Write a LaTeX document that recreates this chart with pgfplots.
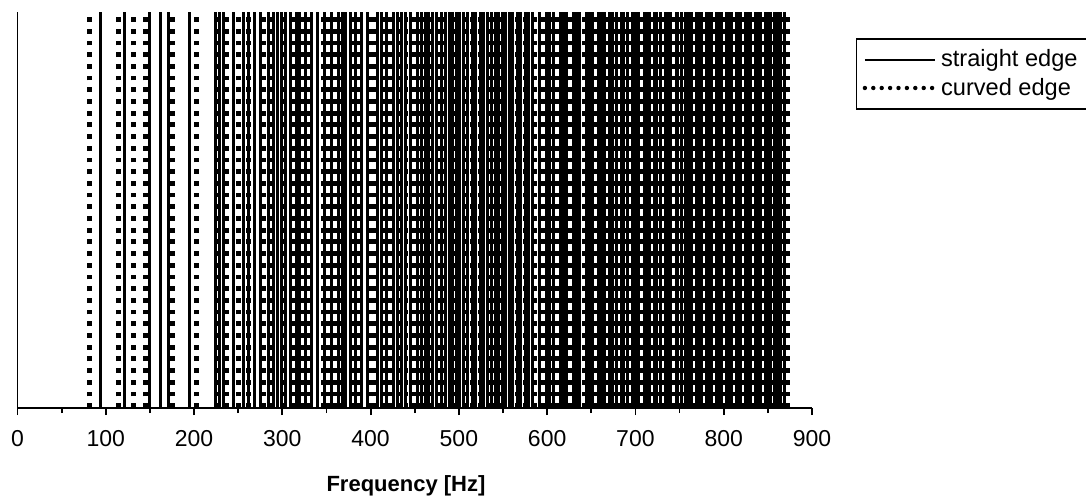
\documentclass[border=0pt]{standalone}
\usepackage{fontspec}
\setmainfont{Liberation Sans}
\usepackage{pgfplots}
\pgfplotsset{compat=1.18}
\begin{document}
\begin{tikzpicture}
\useasboundingbox (-8.75pt,-45.5pt) rectangle (534.25pt,204pt);
\begin{axis}[
  at={(0,0)}, anchor=south west,
  scale only axis, width=397.25pt, height=198pt,
  xmin=0, xmax=900, ymin=0, ymax=1,
  axis x line=bottom, axis y line=left,
  axis line style={-, line width=0.9pt, black},
  xtick={0,100,...,900},
  minor xtick={50,150,...,850},
  ytick=\empty,
  tick align=outside,
  major tick length=3.5pt, minor tick length=2.5pt,
  every tick/.style={black, line width=0.9pt},
  tick label style={font=\fontsize{11.5}{13}\selectfont},
  /pgf/number format/assume math mode=true,
  xticklabel style={yshift=-4pt},
  xlabel={\textbf{Frequency [Hz]}},
  xlabel style={font=\fontsize{11}{13}\selectfont, at={(axis description cs:0.489,0)}, anchor=center, yshift=-39pt},
  legend style={at={(rel axis cs:1.0554,0.934)}, anchor=north west, draw=black, line width=0.7pt,
    font=\fontsize{11.8}{13}\selectfont, inner xsep=3pt, inner ysep=3.5pt},
  legend cell align=left,
  legend image code/.code={\draw[#1] (0pt,0pt) -- (35pt,0pt);},
  clip=true,
]
\addlegendimage{black, line width=1.2pt}
\addlegendimage{black, line width=2.2pt, dash pattern=on 0pt off 4.2pt, line cap=round}
% straight edge
\addplot[forget plot, ycomb, black, line width=1.5pt, no marks] coordinates {
(93.5,1) (121,1) (149,1) (161.5,1) (171,1) (195,1) (224,1) (229,1) (233,1) (245,1) (256,1)
(262,1) (268,1) (275,1) (284,1) (290,1) (295,1) (299,1) (304,1) (309,1) (316,1) (320,1)
(326,1) (333,1) (340,1) (348,1) (356,1)
(364,1) (368,1) (372,1) (377,1) (383,1) (390,1) (396,1) (408,1) (412,1) (418,1) (426,1)
(430,1) (435,1) (440,1) (445,1) (453,1) (458,1)
(462,1) (466,1) (470,1) (475,1) (480,1) (485,1) (489,1) (493,1) (497,1) (501,1) (505,1)
(510,1) (515,1) (519,1) (524,1) (528,1) (532,1) (537,1) (541,1)
(545,1) (549,1) (553,1) (557,1) (561,1) (566,1) (570,1) (575,1) (579,1) (583,1)
(591,1) (599,1) (603,1) (607,1) (615,1) (618,1) (622,1)
(630,1) (633,1) (637,1) (645,1) (648,1) (651,1) (658,1) (661,1) (665,1) (671,1) (674,1)
(678,1) (684,1) (687,1) (691,1)
(697,1) (700,1) (703,1) (710,1) (712,1) (716,1) (722,1) (724,1) (728,1) (734,1) (736,1)
(740,1) (746,1) (748,1) (752,1)
(757,1) (760,1) (763,1) (769,1) (772,1) (775,1) (780,1) (783,1) (786,1) (792,1) (795,1)
(797,1) (803,1) (806,1) (809,1)
(814,1) (817,1) (819,1) (825,1) (828,1) (830,1) (836,1) (839,1) (842,1) (847,1) (850,1)
(853,1) (858,1) (861,1) (864,1) (869,1)
};
% curved edge
\addplot[forget plot, ycomb, black, line width=2.4pt, dash pattern=on 2.4pt off 3.45pt, no marks] coordinates {
(82,1) (114,1) (131,1) (145,1) (176,1) (203,1) (226,1) (237,1) (250,1) (262,1)
(279,1) (288,1) (303,1) (312,1) (322,1) (330,1) (346,1) (352,1) (360,1) (368,1)
(378,1) (387,1) (401,1) (404,1) (414,1) (422,1) (431,1) (440,1) (449,1) (458,1)
(466,1) (476,1) (484,1) (497,1) (506,1) (515,1) (524,1) (533,1) (541,1) (549,1)
(558,1) (566,1) (575,1) (586,1) (596,1) (604,1) (612,1) (619,1) (626,1) (634,1)
(642,1) (648,1) (655,1) (662,1) (668,1) (675,1) (681,1) (688,1) (694,1) (700,1)
(707,1) (713,1) (719,1) (725,1) (731,1) (737,1) (743,1) (749,1) (755,1) (760,1)
(766,1) (772,1) (778,1) (783,1) (789,1) (795,1) (800,1) (806,1) (812,1) (817,1)
(822,1) (828,1) (833,1) (839,1) (845,1) (850,1) (856,1) (861,1) (867,1) (872,1)
};
\legend{straight edge, curved edge}
\end{axis}
\end{tikzpicture}
\end{document}
